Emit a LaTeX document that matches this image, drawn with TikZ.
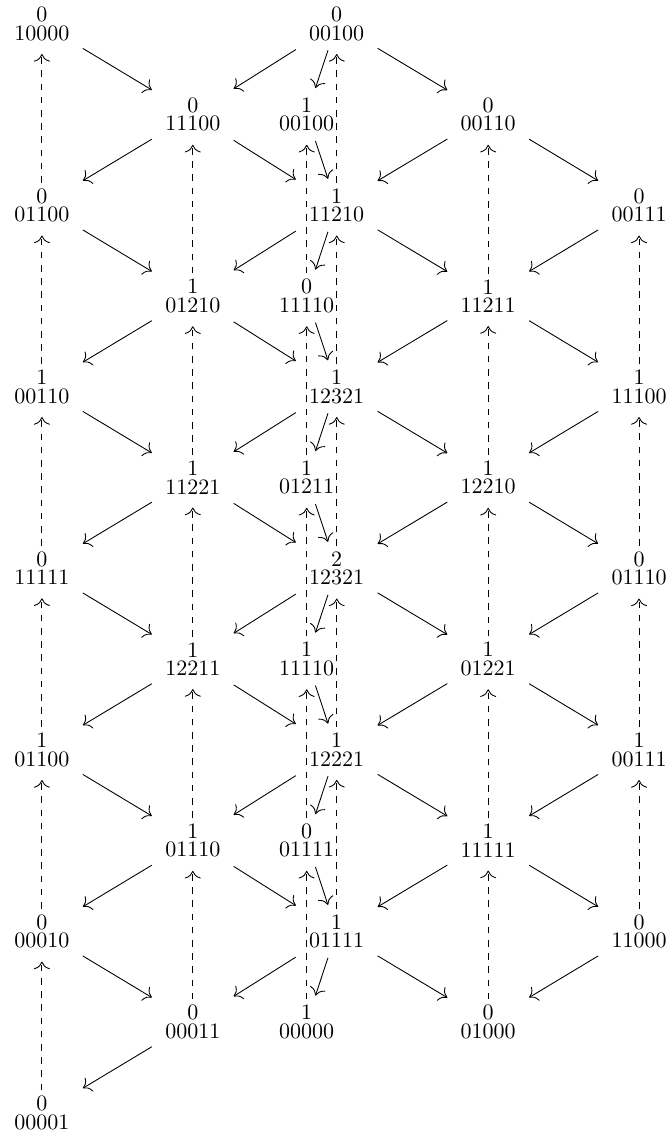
\documentclass[tikz,border=0pt]{standalone}
\usetikzlibrary{arrows.meta}
\begin{document}
\begin{tikzpicture}[>={Computer Modern Rightarrow[scale=1.4]},
  dimvec/.style={align=center, inner xsep=5.9pt, inner ysep=4.2pt, font=\fontsize{10pt}{8.4pt}\selectfont},
  tau/.style={->, dashed, shorten >=1.7pt, shorten <=-1.7pt}]
\useasboundingbox (0,0) rectangle (10.70,-18.15);
% first column
\node[dimvec] (a0) at (0.67,-0.38) {0\\10000};
\node[dimvec] (a2) at (0.67,-3.28) {0\\01100};
\node[dimvec] (a4) at (0.67,-6.18) {1\\00110};
\node[dimvec] (a6) at (0.67,-9.08) {0\\11111};
\node[dimvec] (a8) at (0.67,-11.98) {1\\01100};
\node[dimvec] (a10) at (0.67,-14.88) {0\\00010};
\node[dimvec] (a12) at (0.67,-17.78) {0\\00001};
% second column
\node[dimvec] (b1) at (3.08,-1.83) {0\\11100};
\node[dimvec] (b3) at (3.08,-4.73) {1\\01210};
\node[dimvec] (b5) at (3.08,-7.63) {1\\11221};
\node[dimvec] (b7) at (3.08,-10.53) {1\\12211};
\node[dimvec] (b9) at (3.08,-13.43) {1\\01110};
\node[dimvec] (b11) at (3.08,-16.33) {0\\00011};
% middle, left
\node[dimvec] (c1) at (4.90,-1.83) {1\\00100};
\node[dimvec] (c3) at (4.90,-4.73) {0\\11110};
\node[dimvec] (c5) at (4.90,-7.63) {1\\01211};
\node[dimvec] (c7) at (4.90,-10.53) {1\\11110};
\node[dimvec] (c9) at (4.90,-13.43) {0\\01111};
\node[dimvec] (c11) at (4.90,-16.33) {1\\00000};
% middle, right
\node[dimvec] (d0) at (5.38,-0.38) {0\\00100};
\node[dimvec] (d2) at (5.38,-3.28) {1\\11210};
\node[dimvec] (d4) at (5.38,-6.18) {1\\12321};
\node[dimvec] (d6) at (5.38,-9.08) {2\\12321};
\node[dimvec] (d8) at (5.38,-11.98) {1\\12221};
\node[dimvec] (d10) at (5.38,-14.88) {1\\01111};
% fourth column
\node[dimvec] (e1) at (7.80,-1.83) {0\\00110};
\node[dimvec] (e3) at (7.80,-4.73) {1\\11211};
\node[dimvec] (e5) at (7.80,-7.63) {1\\12210};
\node[dimvec] (e7) at (7.80,-10.53) {1\\01221};
\node[dimvec] (e9) at (7.80,-13.43) {1\\11111};
\node[dimvec] (e11) at (7.80,-16.33) {0\\01000};
% last column
\node[dimvec] (f2) at (10.21,-3.28) {0\\00111};
\node[dimvec] (f4) at (10.21,-6.18) {1\\11100};
\node[dimvec] (f6) at (10.21,-9.08) {0\\01110};
\node[dimvec] (f8) at (10.21,-11.98) {1\\00111};
\node[dimvec] (f10) at (10.21,-14.88) {0\\11000};
% irreducible maps
\draw[->] (a0) -- (b1);
\draw[->] (a2) -- (b3);
\draw[->] (a4) -- (b5);
\draw[->] (a6) -- (b7);
\draw[->] (a8) -- (b9);
\draw[->] (a10) -- (b11);
\draw[->] (b1) -- (a2);
\draw[->] (b3) -- (a4);
\draw[->] (b5) -- (a6);
\draw[->] (b7) -- (a8);
\draw[->] (b9) -- (a10);
\draw[->] (b11) -- (a12);
\draw[->] (b1) -- (d2);
\draw[->] (b3) -- (d4);
\draw[->] (b5) -- (d6);
\draw[->] (b7) -- (d8);
\draw[->] (b9) -- (d10);
\draw[->] (d0) -- (b1);
\draw[->] (d2) -- (b3);
\draw[->] (d4) -- (b5);
\draw[->] (d6) -- (b7);
\draw[->] (d8) -- (b9);
\draw[->] (d10) -- (b11);
\draw[->] (d0) -- (c1);
\draw[->] (d2) -- (c3);
\draw[->] (d4) -- (c5);
\draw[->] (d6) -- (c7);
\draw[->] (d8) -- (c9);
\draw[->] (d10) -- (c11);
\draw[->] (c1) -- (d2);
\draw[->] (c3) -- (d4);
\draw[->] (c5) -- (d6);
\draw[->] (c7) -- (d8);
\draw[->] (c9) -- (d10);
\draw[->] (d0) -- (e1);
\draw[->] (d2) -- (e3);
\draw[->] (d4) -- (e5);
\draw[->] (d6) -- (e7);
\draw[->] (d8) -- (e9);
\draw[->] (d10) -- (e11);
\draw[->] (e1) -- (d2);
\draw[->] (e3) -- (d4);
\draw[->] (e5) -- (d6);
\draw[->] (e7) -- (d8);
\draw[->] (e9) -- (d10);
\draw[->] (e1) -- (f2);
\draw[->] (e3) -- (f4);
\draw[->] (e5) -- (f6);
\draw[->] (e7) -- (f8);
\draw[->] (e9) -- (f10);
\draw[->] (f2) -- (e3);
\draw[->] (f4) -- (e5);
\draw[->] (f6) -- (e7);
\draw[->] (f8) -- (e9);
\draw[->] (f10) -- (e11);
% translates
\draw[tau] (a2) -- (a0);
\draw[tau] (a4) -- (a2);
\draw[tau] (a6) -- (a4);
\draw[tau] (a8) -- (a6);
\draw[tau] (a10) -- (a8);
\draw[tau] (a12) -- (a10);
\draw[tau] (b3) -- (b1);
\draw[tau] (b5) -- (b3);
\draw[tau] (b7) -- (b5);
\draw[tau] (b9) -- (b7);
\draw[tau] (b11) -- (b9);
\draw[tau] (c3) -- (c1);
\draw[tau] (c5) -- (c3);
\draw[tau] (c7) -- (c5);
\draw[tau] (c9) -- (c7);
\draw[tau] (c11) -- (c9);
\draw[tau] (d2) -- (d0);
\draw[tau] (d4) -- (d2);
\draw[tau] (d6) -- (d4);
\draw[tau] (d8) -- (d6);
\draw[tau] (d10) -- (d8);
\draw[tau] (e3) -- (e1);
\draw[tau] (e5) -- (e3);
\draw[tau] (e7) -- (e5);
\draw[tau] (e9) -- (e7);
\draw[tau] (e11) -- (e9);
\draw[tau] (f4) -- (f2);
\draw[tau] (f6) -- (f4);
\draw[tau] (f8) -- (f6);
\draw[tau] (f10) -- (f8);
\end{tikzpicture}
\end{document}
